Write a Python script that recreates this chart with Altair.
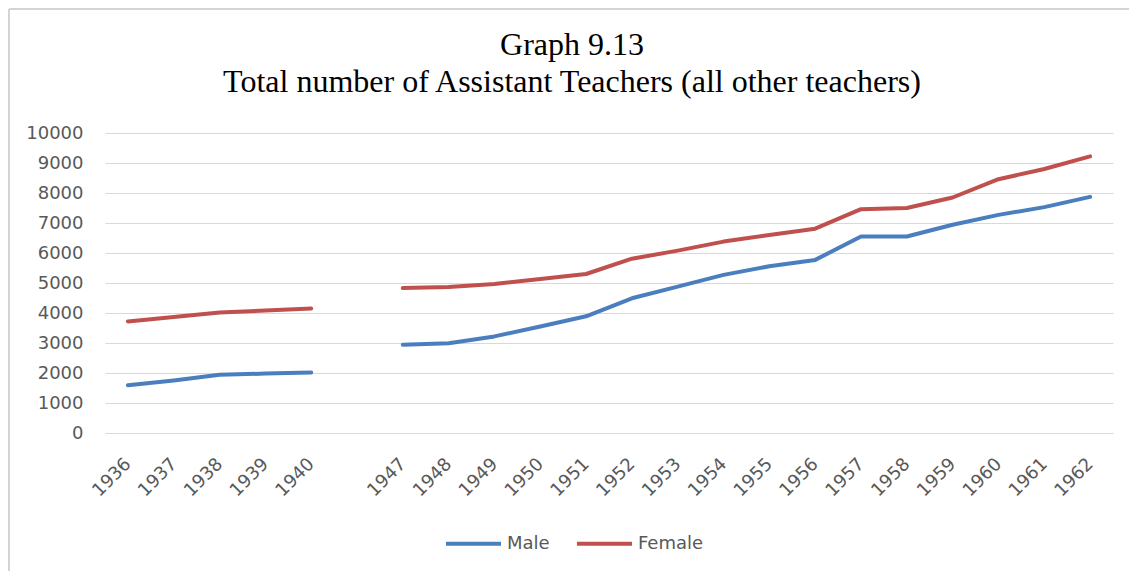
import altair as alt
import pandas as pd

years_a = ["1936", "1937", "1938", "1939", "1940"]
years_b = ["1947", "1948", "1949", "1950", "1951", "1952", "1953", "1954",
           "1955", "1956", "1957", "1958", "1959", "1960", "1961", "1962"]
gap_label = " "
x_domain = years_a + [gap_label] + years_b

male_a = [1590, 1750, 1940, 1980, 2020]
female_a = [3720, 3870, 4020, 4080, 4150]
male_b = [2940, 2990, 3220, 3550, 3890, 4490, 4880, 5270, 5560, 5770,
          6550, 6550, 6940, 7270, 7530, 7870]
female_b = [4830, 4870, 4970, 5130, 5300, 5810, 6080, 6380, 6600, 6810,
            7460, 7500, 7850, 8460, 8800, 9220]

series_names = ["Male", "Female"]
series_colors = ["#4A7EBF", "#C0504D"]

rows = []
for seg, yrs, m, f in [("a", years_a, male_a, female_a), ("b", years_b, male_b, female_b)]:
    for y, mv, fv in zip(yrs, m, f):
        rows.append({"year": y, "series": "Male", "value": mv, "segment": seg})
        rows.append({"year": y, "series": "Female", "value": fv, "segment": seg})
df = pd.DataFrame(rows)

label_font = "DejaVu Sans"
label_color = "#595959"

lines = alt.Chart(df).mark_line(strokeWidth=4, strokeCap="round", strokeJoin="round").encode(
    x=alt.X("year:O", scale=alt.Scale(domain=x_domain, type="point", padding=0.5),
            axis=alt.Axis(title=None, labelAngle=-45, labelAlign="right", labelBaseline="middle",
                          labelPadding=28, domain=False, ticks=False, grid=False,
                          labelFont=label_font, labelFontSize=18, labelColor=label_color)),
    y=alt.Y("value:Q", scale=alt.Scale(domain=[0, 10000], nice=False),
            axis=alt.Axis(title=None, values=list(range(0, 10001, 1000)), format="d",
                          domain=False, ticks=False,
                          gridColor="#D9D9D9", gridWidth=1, labelPadding=22,
                          labelFont=label_font, labelFontSize=18, labelColor=label_color)),
    color=alt.Color("series:N", scale=alt.Scale(domain=series_names, range=series_colors),
                    legend=alt.Legend(title=None, orient="none", direction="horizontal",
                                      legendX=339, legendY=381, symbolType="stroke",
                                      symbolSize=3025, symbolStrokeWidth=4, labelOffset=4,
                                      columnPadding=19, padding=0,
                                      labelFont=label_font, labelFontSize=18, labelColor=label_color)),
    detail="segment:N",
)

frame_df = pd.DataFrame({"k": [0]})
frame_top = alt.Chart(frame_df).mark_rule(stroke="#D4D4D4", strokeWidth=2).encode(
    x=alt.value(-96), x2=alt.value(1030), y=alt.value(-124)
)
frame_left = alt.Chart(frame_df).mark_rule(stroke="#D4D4D4", strokeWidth=2).encode(
    x=alt.value(-96), y=alt.value(-124), y2=alt.value(440)
)

chart = alt.layer(frame_top, frame_left, lines).properties(
    width=1008, height=300,
    background="white",
    title=alt.TitleParams(
        text=["Graph 9.13", "Total number of Assistant Teachers (all other teachers)"],
        font="Liberation Serif", fontSize=32, fontWeight="normal", color="#000000",
        anchor="middle", frame="group", dx=-37, offset=-91, lineHeight=37,
    ),
    padding={"left": 97, "top": 125, "right": 16, "bottom": 138},
    autosize=alt.AutoSizeParams(type="none"),
).configure_view(stroke="transparent", strokeWidth=0)

chart.save("out.html", embed_options={"renderer": "svg", "actions": False})
